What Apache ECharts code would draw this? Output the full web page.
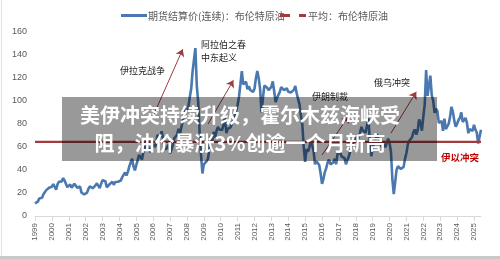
<!DOCTYPE html>
<html>
<head>
<meta charset="utf-8">
<script src="https://cdn.jsdelivr.net/npm/echarts@6/dist/echarts.min.js"></script>
<style>
html, body { margin: 0; padding: 0; background: #fff; }
#main { width: 500px; height: 259px; }
</style>
</head>
<body>
<div id="main"></div>
<script>
var dom = document.getElementById("main");
var myChart = echarts.init(dom);

var years = [1999, 2000, 2001, 2002, 2003, 2004, 2005, 2006, 2007, 2008, 2009, 2010, 2011,
    2012, 2013, 2014, 2015, 2016, 2017, 2018, 2019, 2020, 2021, 2022, 2023, 2024, 2025];

// 布伦特原油 月度结算价（美元/桶），读图估计
var brent = [
    11.0, 10.3, 12.5, 15.3, 15.3, 15.9, 19.0, 20.3, 22.5, 22.1, 24.6, 25.5,   // 1999
    25.5, 27.8, 27.5, 22.8, 27.6, 29.8, 28.7, 30.1, 33.0, 30.9, 32.5, 25.1,   // 2000
    25.6, 27.5, 24.5, 25.6, 28.1, 27.8, 24.6, 25.8, 25.6, 20.5, 18.8, 18.7,   // 2001
    19.4, 20.3, 23.7, 25.7, 25.4, 24.1, 25.7, 26.6, 28.4, 27.5, 24.3, 28.0,   // 2002
    31.2, 32.8, 30.3, 25.0, 25.8, 27.6, 28.4, 29.8, 27.1, 29.6, 28.8, 29.8,   // 2003
    31.2, 30.9, 33.8, 33.4, 37.9, 35.2, 38.4, 43.0, 43.4, 49.8, 43.1, 39.7,   // 2004
    44.3, 45.5, 53.1, 51.9, 49.0, 55.6, 57.9, 63.9, 63.0, 58.5, 55.5, 56.7,   // 2005
    62.9, 60.0, 62.1, 70.3, 69.8, 68.7, 73.7, 73.2, 61.9, 57.8, 58.8, 62.0,   // 2006
    54.5, 57.8, 62.1, 67.5, 67.9, 70.6, 75.8, 71.2, 77.0, 82.5, 92.1, 91.5,   // 2007
    92.2, 94.8, 103.3, 110.4, 125.5, 136.0, 146.0, 113.4, 99.0, 72.8, 53.2, 37.0, // 2008
    44.9, 43.4, 47.7, 49.9, 59.0, 69.6, 65.0, 73.1, 68.2, 73.9, 77.5, 75.2,   // 2009
    76.9, 74.7, 79.9, 85.7, 72.0, 75.7, 75.4, 77.1, 78.2, 83.5, 86.1, 91.4,   // 2010
    96.5, 103.7, 114.6, 126.0, 114.5, 113.9, 116.7, 110.2, 112.8, 109.6, 110.5, 107.9, // 2011
    110.6, 119.7, 126.0, 119.8, 110.3, 90.0, 102.6, 113.4, 113.0, 111.5, 109.5, 109.2, // 2012
    112.3, 117.0, 108.5, 99.0, 102.6, 102.9, 107.9, 112.0, 111.2, 109.5, 108.1, 111.0, // 2013
    108.1, 108.9, 107.5, 107.8, 109.7, 113.0, 106.8, 101.6, 97.1, 87.4, 79.4, 60.0,  // 2014
    47.0, 58.1, 55.9, 59.5, 65.0, 61.5, 56.6, 45.0, 47.6, 48.4, 44.3, 37.0,   // 2015
    28.0, 32.2, 38.2, 41.6, 46.7, 49.0, 44.9, 45.8, 46.6, 49.7, 45.0, 54.0,   // 2016
    54.6, 54.9, 51.6, 52.3, 50.3, 45.0, 48.5, 51.7, 56.2, 57.5, 62.7, 64.4,   // 2017
    69.1, 65.2, 66.0, 72.1, 77.5, 74.4, 74.3, 72.5, 78.9, 85.0, 64.8, 52.0,   // 2018
    59.4, 64.0, 66.1, 71.2, 71.1, 64.2, 63.9, 59.0, 62.8, 59.7, 63.2, 67.3,   // 2019
    63.7, 55.7, 32.0, 19.0, 29.4, 40.3, 43.2, 44.7, 40.9, 40.2, 42.7, 49.9,   // 2020
    54.8, 62.3, 65.4, 64.8, 68.5, 73.2, 75.2, 70.8, 74.5, 84.0, 81.1, 74.2,   // 2021
    86.5, 97.1, 127.0, 104.6, 113.3, 122.0, 105.0, 100.5, 89.8, 93.3, 91.4, 80.9, // 2022
    82.5, 82.6, 74.0, 84.6, 75.5, 74.8, 80.1, 86.2, 95.0, 90.6, 82.9, 77.6,   // 2023
    80.1, 83.5, 85.4, 90.1, 81.8, 82.6, 85.3, 80.9, 72.0, 75.6, 74.4, 73.9,   // 2024
    79.3, 75.2, 72.6, 63.0, 62.0, 75.0                                         // 2025
];

var avgPrice = 64.5;

var seriesNames = ['期货结算价(连续)：布伦特原油', '平均：布伦特原油'];
var colors = ['#4a78b0', '#a13b3f'];

// 事件箭头：[起点月份, 起点价格, 终点月份, 终点价格]
var events = [
    ['2006-01', 87, '2007-10', 145],
    ['2009-04', 80, '2010-10', 118],
    ['2016-01', 53, '2017-08', 87],
    ['2020-02', 72, '2021-08', 108]
];

var months = [];
years.forEach(function (y) {
    for (var m = 1; m <= 12; m++) {
        months.push(y + '-' + (m < 10 ? '0' + m : m));
    }
});
months = months.slice(0, brent.length);

var avgData = brent.map(function () { return avgPrice; });

var font = 'Noto Sans CJK SC';
var noteStyle = { fontSize: 9, fill: '#222', fontFamily: font };
var legendText = { fontSize: 10, fill: '#595959', fontFamily: font, verticalAlign: 'middle' };

option = {
    animation: false,
    grid: { left: 35, right: 19, top: 32, bottom: 43 },
    xAxis: {
        type: 'category',
        boundaryGap: false,
        data: months,
        axisLine: { lineStyle: { color: '#d9d9d9' } },
        axisTick: { interval: 11, length: 5, lineStyle: { color: '#d9d9d9' } },
        axisLabel: {
            interval: 11,
            rotate: 90,
            margin: 7,
            fontSize: 8,
            color: '#595959',
            formatter: function (v) { return v.slice(0, 4); }
        }
    },
    yAxis: {
        type: 'value',
        min: 0,
        max: 160,
        interval: 20,
        splitLine: { show: false },
        axisLine: { show: false },
        axisLabel: { fontSize: 9, color: '#595959', margin: 8 }
    },
    series: [{
        name: seriesNames[0],
        type: 'line',
        data: brent,
        symbol: 'none',
        lineStyle: { color: colors[0], width: 2.6 },
        markLine: {
            silent: true,
            symbol: ['none', 'arrow'],
            symbolSize: 7,
            label: { show: false },
            lineStyle: { color: '#9c3b40', width: 1, type: 'solid' },
            data: events.map(function (e) {
                return [{ coord: [e[0], e[1]] }, { coord: [e[2], e[3]] }];
            })
        }
    }, {
        name: seriesNames[1],
        type: 'line',
        data: avgData,
        symbol: 'none',
        lineStyle: { color: colors[1], width: 2.2 }
    }],
    graphic: [
        { type: 'rect', shape: { x: 1, y: 0, width: 1, height: 259 }, style: { fill: '#e2e2e2' } },
        { type: 'rect', shape: { x: 0, y: 256, width: 500, height: 3 }, style: { fill: '#c8c8c8' } },
        // 图例
        { type: 'rect', shape: { x: 121, y: 14, width: 26, height: 3 }, style: { fill: colors[0] } },
        { type: 'text', x: 148, y: 16, style: Object.assign({ text: seriesNames[0] }, legendText) },
        { type: 'rect', shape: { x: 280, y: 14, width: 10, height: 3 }, style: { fill: colors[1] } },
        { type: 'rect', shape: { x: 299, y: 14, width: 7, height: 3 }, style: { fill: colors[1] } },
        { type: 'text', x: 308, y: 16, style: Object.assign({ text: seriesNames[1] }, legendText) },
        // 事件标注
        { type: 'text', x: 120, y: 66, style: Object.assign({ text: '伊拉克战争' }, noteStyle) },
        { type: 'text', x: 201, y: 40, style: Object.assign({ text: '阿拉伯之春' }, noteStyle) },
        { type: 'text', x: 201, y: 53, style: Object.assign({ text: '中东起义' }, noteStyle) },
        { type: 'text', x: 312, y: 92, style: Object.assign({ text: '伊朗制裁' }, noteStyle) },
        { type: 'text', x: 374, y: 78, style: Object.assign({ text: '俄乌冲突' }, noteStyle) },
        { type: 'text', x: 441, y: 153, style: { text: '伊以冲突', fontSize: 9.5, fontWeight: 'bold', fill: '#c00000', fontFamily: font } },
        // 标题遮罩
        {
            type: 'rect', z: 100,
            shape: { x: 62, y: 97, width: 375, height: 64 },
            style: { fill: 'rgba(0,0,0,0.4)' }
        },
        {
            type: 'text', z: 101, x: 240, y: 115,
            style: { text: '美伊冲突持续升级，霍尔木兹海峡受', fill: '#fff', fontSize: 20, fontWeight: 'bold', fontFamily: font, align: 'center', verticalAlign: 'middle' }
        },
        {
            type: 'text', z: 101, x: 240, y: 143,
            style: { text: '阻，油价暴涨3%创逾一个月新高', fill: '#fff', fontSize: 20, fontWeight: 'bold', fontFamily: font, align: 'center', verticalAlign: 'middle' }
        }
    ]
};

if (option && typeof option === "object") {
    myChart.setOption(option, true);
}
</script>
</body>
</html>
